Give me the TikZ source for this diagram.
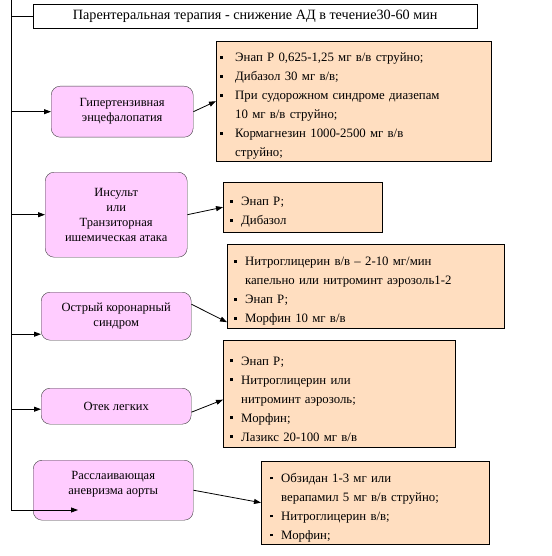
\documentclass[tikz,border=0pt]{standalone}
\usepackage{fontspec}
\setmainfont{Liberation Serif}
\usetikzlibrary{arrows.meta}
\definecolor{pinkfill}{HTML}{FFCCFF}
\definecolor{peachfill}{HTML}{FFDEC0}
\newlength\itmw
\setlength\itmw{11pt}
\tikzset{% This is the style settings for nodes
    head/.style={draw=black, fill=white, anchor=north west, inner sep=0pt,
      font=\fontsize{14.2}{16}\selectfont},
    cond/.style={draw=black!75, fill=pinkfill, rounded corners=9pt, align=center,
      anchor=north west, inner sep=0pt, font=\fontsize{12.5}{15}\selectfont},
    drug/.style={draw=black, fill=peachfill, anchor=north west, align=left,
      inner xsep=7pt, inner ysep=0pt, font=\fontsize{12.8}{19}\selectfont},
    e/.style={-{Triangle[length=7pt,width=5pt]}, line width=0.8pt}}
\newcommand\itm{\par\hangindent=\itmw\hangafter=1\noindent
  \makebox[\itmw][l]{\rule[3pt]{2.8pt}{2.8pt}}}

\begin{document}
\begin{tikzpicture}[x=1pt,y=-1pt]
  \useasboundingbox (0,0) rectangle (551,556);
  \coordinate (ttop) at (11,0);
  \coordinate (tend) at (11,510);
  \coordinate (aend) at (78,510);

  \node[head, minimum width=444, minimum height=24] (par) at (33,4)
    {Парентеральная терапия - снижение АД в течение30-60 мин};

  \node[cond, minimum width=142, minimum height=51] (enc) at (51,86)
    {Гипертензивная\\энцефалопатия};
  \node[cond, minimum width=142, minimum height=85] (ins) at (45,172)
    {Инсульт\\или\\Транзиторная\\ишемическая атака};
  \node[cond, minimum width=150, minimum height=48] (cor) at (41,292)
    {Острый коронарный\\синдром};
  \node[cond, minimum width=150, minimum height=36] (ote) at (41,388)
    {Отек легких};
  \node[cond, minimum width=160, minimum height=60] (aor) at (33,460)
    {Расслаивающая\\аневризма аорты\\~};

  \node[drug, inner xsep=4pt, text width=267, minimum height=120] (tx1) at (216,41)
    {\setlength\itmw{15pt}%
     \itm Энап Р 0,625-1,25 мг в/в струйно;
     \itm Дибазол 30 мг в/в;
     \itm При судорожном синдроме диазепам\newline 10 мг в/в струйно;
     \itm Кормагнезин 1000-2500 мг в/в\newline струйно;\par};
  \node[drug, text width=145, minimum height=50] (tx2) at (223,182)
    {\itm Энап Р;
     \itm Дибазол\par};
  \node[drug, text width=263, minimum height=84] (tx3) at (227,244)
    {\itm Нитроглицерин в/в – 2-10 мг/мин\newline капельно или нитроминт аэрозоль1-2
     \itm Энап Р;
     \itm Морфин 10 мг в/в\par};
  \node[drug, text width=218, minimum height=107] (tx4) at (223,340)
    {\itm Энап Р;
     \itm Нитроглицерин или\newline нитроминт аэрозоль;
     \itm Морфин;
     \itm Лазикс 20-100 мг в/в\par};
  \node[drug, inner xsep=9pt, text width=210, minimum height=83] (tx5) at (261,461)
    {\itm Обзидан 1-3 мг или\newline верапамил 5 мг в/в струйно;
     \itm Нитроглицерин в/в;
     \itm Морфин;\par};

  % trunk and branches
  \draw[line width=0.8pt] (ttop) -- (tend);
  \draw[line width=0.8pt] (ttop |- par.west) -- (par.west);
  \draw[e] (ttop |- enc.west) -- (enc.west);
  \draw[e] (ttop |- ins.west) -- (ins.west);
  \draw[e] ([yshift=-18pt]cor.west -| ttop) -- ([yshift=-18pt]cor.west);
  \draw[e] ([yshift=-3pt]ote.west -| ttop) -- ([yshift=-3pt]ote.west);
  \draw[e] (tend) -- (aend);

  % to the treatments
  \draw[e] (enc.east) -- (tx1.west);
  \draw[e] (ins.east) -- (tx2.west);
  \draw[e] ([yshift=12pt]cor.east) -- ([yshift=-36pt]tx3.west);
  \draw[e] ([yshift=-6pt]ote.east) -- ([yshift=-6pt]tx4.west);
  \draw[e] (aor.east) -- (tx5.west);
\end{tikzpicture}
\end{document}
